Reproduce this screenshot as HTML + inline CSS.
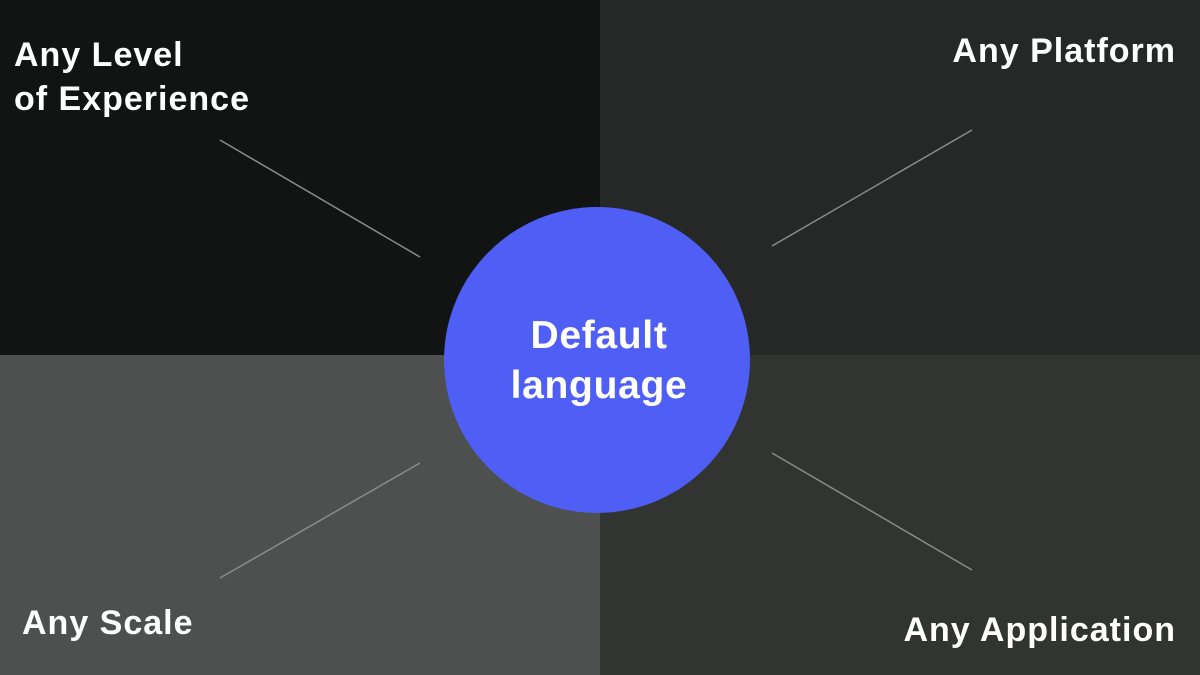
<!DOCTYPE html>
<html><head><style>
body{margin:0;width:1200px;height:675px;overflow:hidden;position:relative;background:#121413;font-family:"Liberation Sans",sans-serif;}
.q{position:absolute}
</style></head><body>
<div class="q" style="left:0;top:0;width:600px;height:355px;background:#121413"></div>
<div class="q" style="left:600px;top:0;width:600px;height:355px;background:#262828"></div>
<div class="q" style="left:0;top:355px;width:600px;height:320px;background:#4d504f"></div>
<div class="q" style="left:600px;top:355px;width:600px;height:320px;background:#313430"></div>
<svg class="q" style="left:0;top:0" width="1200" height="675" font-family="Liberation Sans, sans-serif" font-weight="bold">
<g stroke="#8a8c8b" stroke-width="1.5">
<line x1="220" y1="140" x2="420" y2="257"/>
<line x1="772" y1="246" x2="972" y2="130"/>
<line x1="220" y1="578" x2="420" y2="463"/>
<line x1="772" y1="453" x2="972" y2="570"/>
</g>
<circle cx="597" cy="360" r="153" fill="#4f5ef5"/>
<g fill="#fff" font-size="39" letter-spacing="0.7" text-anchor="middle">
<text x="599" y="348">Default</text>
<text x="599" y="398">language</text>
</g>
<g fill="#fff" font-size="34" letter-spacing="1">
<text x="14" y="66">Any Level</text>
<text x="14" y="110">of Experience</text>
<text x="1176" y="62" text-anchor="end">Any Platform</text>
<text x="22" y="634">Any Scale</text>
<text x="1176" y="641" text-anchor="end">Any Application</text>
</g>
</svg>
</body></html>
